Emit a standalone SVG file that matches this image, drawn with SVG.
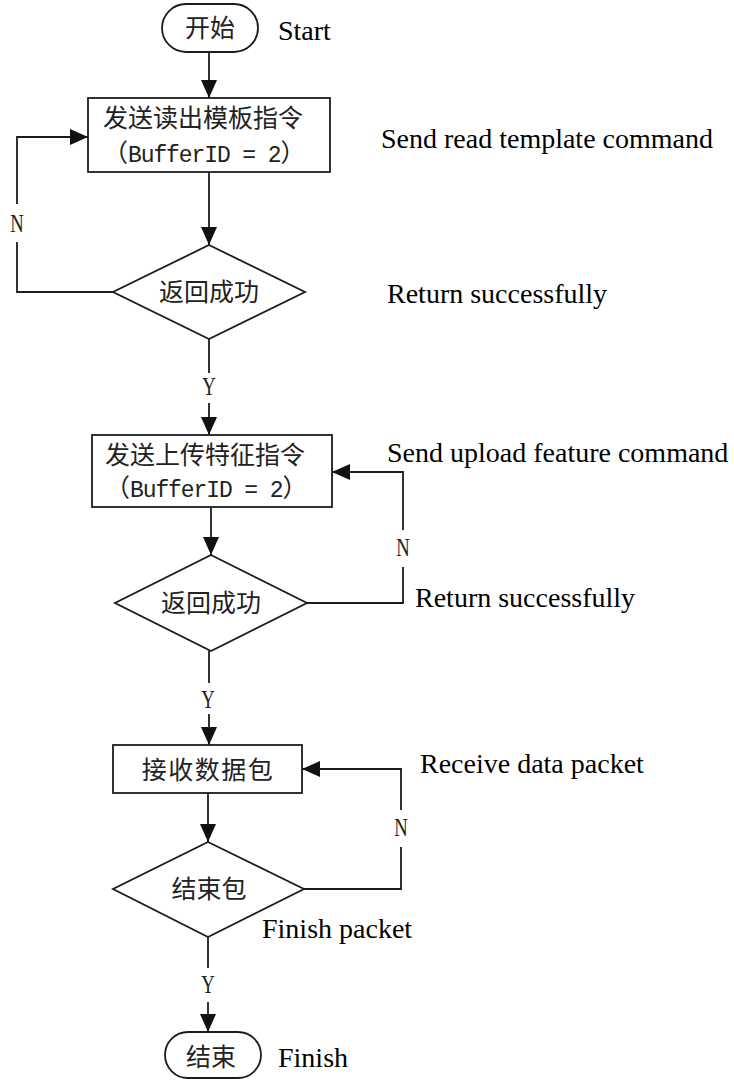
<svg xmlns="http://www.w3.org/2000/svg" width="734" height="1080" viewBox="0 0 734 1080">
<style>
.shape{fill:#fff;stroke:#1c1c1c;stroke-width:1.8}
.line{fill:none;stroke:#1c1c1c;stroke-width:1.8}
.cjk{font-family:"Noto Sans CJK SC","Noto Sans CJK TC",sans-serif;font-size:25px;fill:#222}
.mono{font-family:"Liberation Mono",monospace;font-size:23px;letter-spacing:-1.1px}
.en{font-family:"Liberation Serif",serif;font-size:28px;fill:#000}
.yn{font-family:"Liberation Serif",serif;font-size:26px;fill:#222;text-anchor:middle}
.mid{text-anchor:middle}
</style>
<defs>
<marker id="arr" markerUnits="userSpaceOnUse" markerWidth="18" markerHeight="16" refX="18" refY="8" orient="auto">
<path d="M0,0 L18,8 L0,16 z" fill="#111"/>
</marker>
</defs>
<rect width="734" height="1080" fill="#fff"/>
<g id="connectors">
<path class="line" d="M209,52 V98" marker-end="url(#arr)"/>
<path class="line" d="M209,172 V245" marker-end="url(#arr)"/>
<path class="line" d="M113,292 H17 V242"/>
<path class="line" d="M17,204 V137 H88" marker-end="url(#arr)"/>
<path class="line" d="M209,339 V373"/>
<path class="line" d="M209,403 V435" marker-end="url(#arr)"/>
<path class="line" d="M211,507 V555" marker-end="url(#arr)"/>
<path class="line" d="M307,603 H403 V567"/>
<path class="line" d="M403,530 V472 H332" marker-end="url(#arr)"/>
<path class="line" d="M209,651 V683"/>
<path class="line" d="M209,714 V745" marker-end="url(#arr)"/>
<path class="line" d="M208,793 V842" marker-end="url(#arr)"/>
<path class="line" d="M304,889 H401 V847"/>
<path class="line" d="M401,810 V769 H302" marker-end="url(#arr)"/>
<path class="line" d="M208,937 V968"/>
<path class="line" d="M208,1002 V1032" marker-end="url(#arr)"/>
<text class="yn" transform="translate(17,232) scale(0.72,1)">N</text>
<text class="yn" transform="translate(209,395) scale(0.72,1)">Y</text>
<text class="yn" transform="translate(403,556) scale(0.72,1)">N</text>
<text class="yn" transform="translate(208,708) scale(0.72,1)">Y</text>
<text class="yn" transform="translate(401,836) scale(0.72,1)">N</text>
<text class="yn" transform="translate(208,993) scale(0.72,1)">Y</text>
</g>
<g id="start">
<rect class="shape" x="162" y="4" width="96" height="48" rx="24" ry="24"/>
<text class="cjk mid" x="210" y="37">开始</text>
<text class="en" x="278" y="40">Start</text>
</g>
<g id="send-read">
<rect class="shape" x="88" y="98" width="242" height="74"/>
<text class="cjk" x="103" y="127">发送读出模板指令</text>
<text class="cjk" x="103" y="162">（<tspan class="mono">BufferID = 2</tspan>）</text>
<text class="en" x="381" y="148">Send read template command</text>
</g>
<g id="check1">
<polygon class="shape" points="209,245 305,292 209,339 113,292"/>
<text class="cjk mid" x="209" y="301">返回成功</text>
<text class="en" x="387" y="303">Return successfully</text>
</g>
<g id="send-upload">
<rect class="shape" x="92" y="435" width="240" height="72"/>
<text class="cjk" x="105" y="464">发送上传特征指令</text>
<text class="cjk" x="105" y="497">（<tspan class="mono">BufferID = 2</tspan>）</text>
<text class="en" x="387" y="462">Send upload feature command</text>
</g>
<g id="check2">
<polygon class="shape" points="211,555 307,603 211,651 115,603"/>
<text class="cjk mid" x="211" y="612">返回成功</text>
<text class="en" x="415" y="607">Return successfully</text>
</g>
<g id="receive">
<rect class="shape" x="113" y="745" width="189" height="48"/>
<text class="cjk mid" x="208" y="779" letter-spacing="1.5">接收数据包</text>
<text class="en" x="420" y="773">Receive data packet</text>
</g>
<g id="check3">
<polygon class="shape" points="208,842 304,889 208,937 113,889"/>
<text class="cjk mid" x="209" y="898">结束包</text>
<text class="en" x="262" y="938">Finish packet</text>
</g>
<g id="end">
<rect class="shape" x="165" y="1032" width="96" height="46" rx="23" ry="23"/>
<text class="cjk mid" x="211" y="1066">结束</text>
<text class="en" x="278" y="1067">Finish</text>
</g>
</svg>
